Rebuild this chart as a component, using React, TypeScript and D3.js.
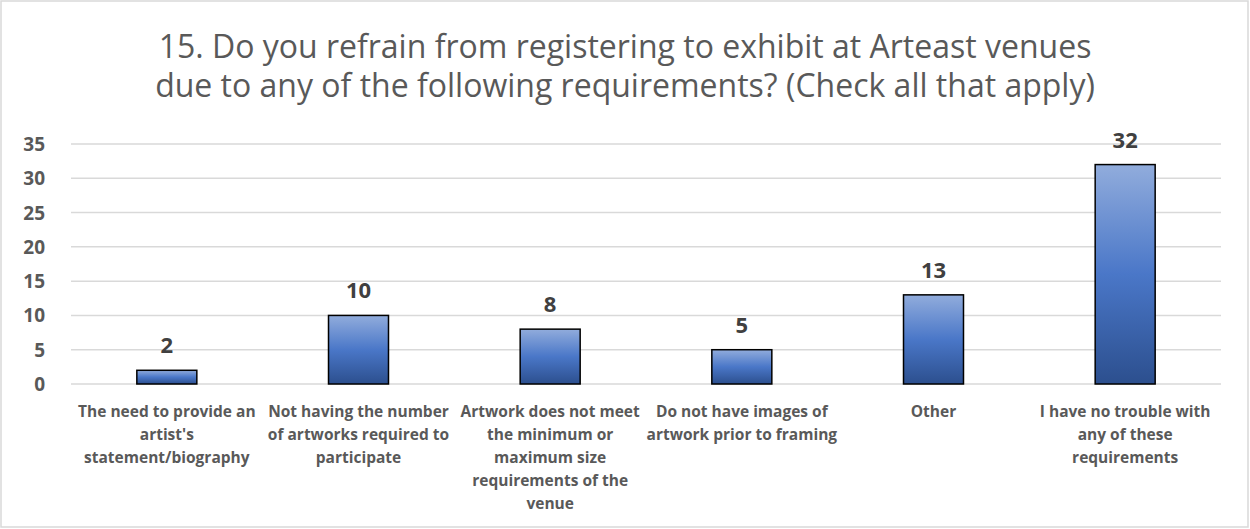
import React from 'react';
import * as d3 from 'd3';

const width = 1250;
const height = 529;
const margin = { top: 144, right: 29, bottom: 145, left: 71 };

const titleLines = [
  '15. Do you refrain from registering to exhibit at Arteast venues',
  'due to any of the following requirements? (Check all that apply)'
];
const categories = [
  ['The need to provide an', "artist's", 'statement/biography'],
  ['Not having the number', 'of artworks required to', 'participate'],
  ['Artwork does not meet', 'the minimum or', 'maximum size', 'requirements of the', 'venue'],
  ['Do not have images of', 'artwork prior to framing'],
  ['Other'],
  ['I have no trouble with', 'any of these', 'requirements']
];
const values = [2, 10, 8, 5, 13, 32];
const yTicks = [0, 5, 10, 15, 20, 25, 30, 35];

const font = '"Open Sans", "Noto Sans", sans-serif';

export default function App() {
  const x = d3
    .scaleBand()
    .domain(d3.range(values.length).map(String))
    .range([margin.left, width - margin.right])
    .paddingInner(0.687)
    .paddingOuter(0.3435);
  const y = d3
    .scaleLinear()
    .domain([0, 35])
    .range([height - margin.bottom, margin.top]);

  return (
    <svg width={width} height={height} style={{ position: 'absolute', left: 0, top: 0 }}>
      <defs>
        <linearGradient id="barGrad" x1="0" y1="0" x2="0" y2="1">
          <stop offset="0%" stopColor="#91acdc" />
          <stop offset="50%" stopColor="#4a77c8" />
          <stop offset="100%" stopColor="#2c4f8e" />
        </linearGradient>
      </defs>
      <rect x={1} y={1} width={width - 3} height={height - 3} fill="#fff" stroke="#d9d9d9" strokeWidth={1.5} />
      {titleLines.map((t, i) => (
        <text key={i} x={width / 2} y={58 + i * 39} textAnchor="middle" fontFamily={font} fontSize={32} fill="#595959">
          {t}
        </text>
      ))}
      {yTicks.map(t => (
        <g key={t}>
          <line x1={margin.left} x2={width - margin.right} y1={y(t)} y2={y(t)} stroke="#d9d9d9" strokeWidth={1.5} />
          <text x={45} y={y(t) + 7} textAnchor="end" fontFamily={font} fontWeight="bold" fontSize={19} fill="#595959">
            {t}
          </text>
        </g>
      ))}
      {values.map((v, i) => {
        const bx = x(String(i)) as number;
        const cx = bx + x.bandwidth() / 2;
        return (
          <g key={i}>
            <rect x={bx} y={y(v)} width={x.bandwidth()} height={y(0) - y(v)} fill="url(#barGrad)" stroke="#000" strokeWidth={1.5} />
            <text x={cx} y={y(v) - 17} textAnchor="middle" fontFamily={font} fontWeight="bold" fontSize={22} fill="#404040">
              {v}
            </text>
            {categories[i].map((line, j) => (
              <text key={j} x={cx} y={417 + j * 23} textAnchor="middle" fontFamily={font} fontWeight="bold" fontSize={15.5} fill="#595959">
                {line}
              </text>
            ))}
          </g>
        );
      })}
    </svg>
  );
}
